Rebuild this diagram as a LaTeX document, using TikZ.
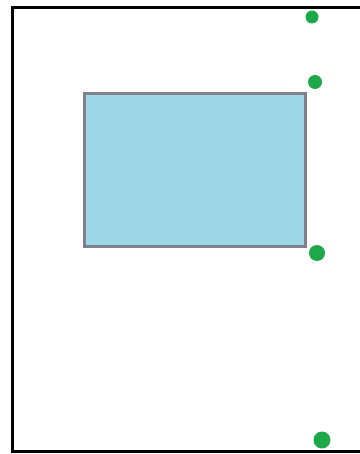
\documentclass[tikz,border=0pt]{standalone}
\begin{document}
\begin{tikzpicture}[x=1pt,y=-1pt,
  frameline/.style={draw=black,line width=3pt},
  box/.style={draw={rgb,255:red,128;green,128;blue,140},line width=3pt,fill={rgb,255:red,158;green,216;blue,232}},
  dot/.style={fill={rgb,255:red,30;green,168;blue,74}}]
\useasboundingbox (0,0) rectangle (359,454);
\fill[white] (0,0) rectangle (359,454);
\draw[frameline] (365,7.5) -- (12.5,7.5) -- (12.5,451.5) -- (365,451.5);
\draw[box] (84,94) rectangle (305,246);
\fill[dot] (312,17) circle (6.5);
\fill[dot] (315,82) circle (7);
\fill[dot] (317,253) circle (8);
\fill[dot] (322,440) circle (8.5);
\end{tikzpicture}
\end{document}
